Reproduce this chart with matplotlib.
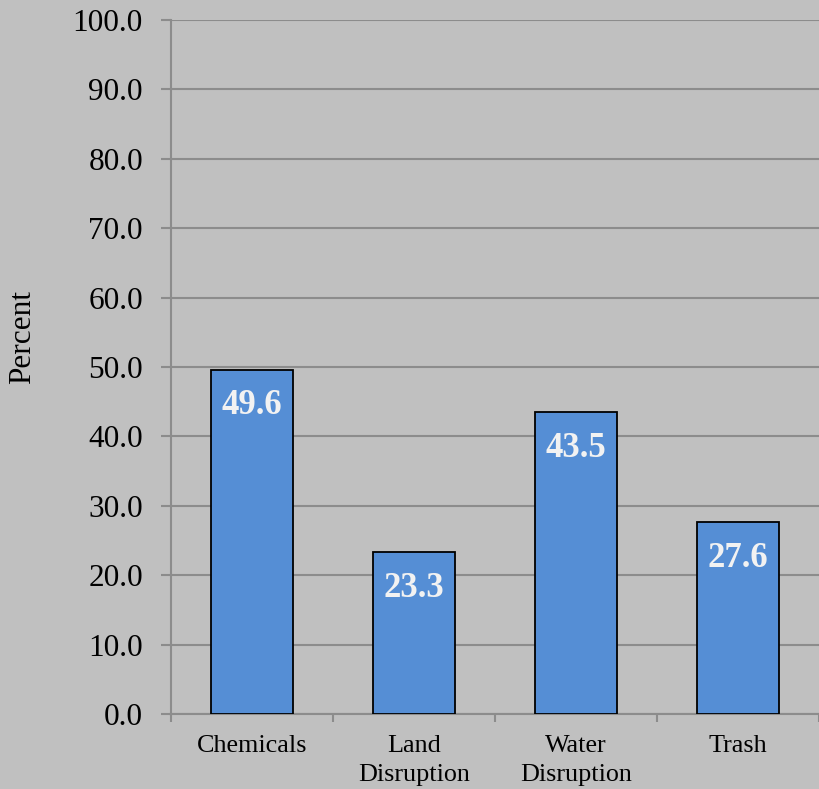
import matplotlib.pyplot as plt
import numpy as np

# data
categories = ['Chemicals', 'Land\nDisruption', 'Water\nDisruption', 'Trash']
values = [49.6, 23.3, 43.5, 27.6]
yticks = np.arange(0, 101, 10)

bg = '#C0C0C0'
grid = '#8C8C8C'
bar_color = '#558ED5'

plt.rcParams['font.family'] = ['Liberation Serif', 'DejaVu Serif']

fig = plt.figure(figsize=(8.19, 7.89), dpi=100, facecolor=bg)
ax = fig.add_axes([171 / 819, 75 / 789, 648 / 819, 694 / 789], facecolor=bg)

x = np.arange(len(categories))
bars = ax.bar(x, values, width=0.51, color=bar_color, edgecolor='black',
              linewidth=1.3, zorder=3)

for b, v in zip(bars, values):
    ax.annotate(f'{v:.1f}', (b.get_x() + b.get_width() / 2, v),
                xytext=(0, -14), textcoords='offset points',
                ha='center', va='top', fontsize=25, fontweight='bold',
                color='#F2F2F2', zorder=4)

ax.set_ylim(0, 100)
ax.set_xlim(-0.5, 3.47)
ax.set_yticks(yticks)
ax.set_yticklabels([f'{t:.1f}' for t in yticks], fontsize=22.5)
ax.yaxis.grid(True, color=grid, linewidth=1.5, zorder=0)
ax.tick_params(axis='y', length=7.2, width=1.5, color=grid, pad=13)

# categories as minor ticks, boundaries as major ticks
ax.set_xticks(np.arange(-0.5, 4, 1))
ax.set_xticklabels([])
ax.set_xticks(x, minor=True)
ax.set_xticklabels(categories, minor=True, fontsize=18.8, linespacing=1.45)
ax.tick_params(axis='x', which='major', length=6, width=1.5, color=grid)
ax.tick_params(axis='x', which='minor', length=0, pad=15)

for side in ['top', 'right']:
    ax.spines[side].set_visible(False)
for side in ['left', 'bottom']:
    ax.spines[side].set_color(grid)
    ax.spines[side].set_linewidth(1.5)

ax.set_ylabel('Percent', fontsize=22.5)
ax.yaxis.set_label_coords((37 - 171) / 648, (714 - 337) / 694)

fig.savefig('out.png', dpi=100, facecolor=bg)
